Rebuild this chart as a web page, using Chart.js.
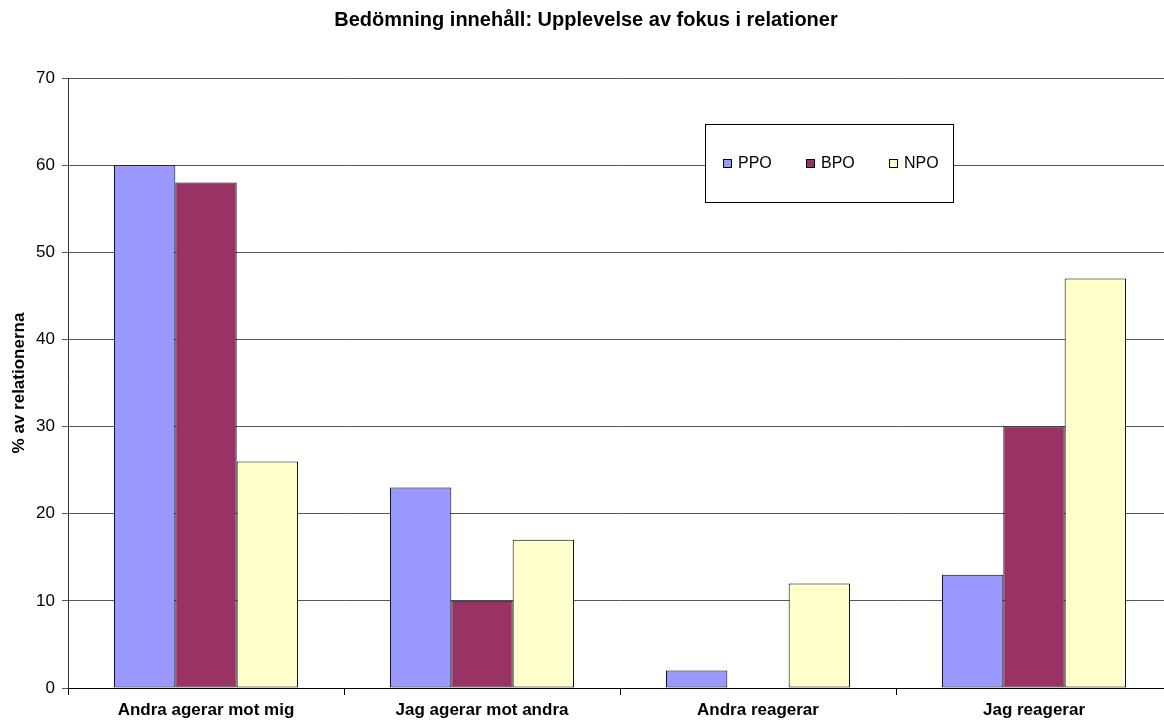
<!DOCTYPE html>
<html>
<head>
<meta charset="utf-8">
<script src="https://cdn.jsdelivr.net/npm/chart.js@4/dist/chart.umd.min.js"></script>
<style>
  html, body { margin: 0; padding: 0; background: #fff; overflow: hidden; }
  #wrap { width: 1164px; height: 722px; overflow: hidden; }
</style>
</head>
<body>
<div id="wrap"><canvas id="barChart" width="1172" height="722"></canvas></div>
<script>
// Chart data
const categories = ["Andra agerar mot mig", "Jag agerar mot andra", "Andra reagerar", "Jag reagerar"];
const ppoValues = [60, 23, 2, 13];
const bpoValues = [58, 10, 0, 30];
const npoValues = [26, 17, 12, 47];
const seriesNames = ["PPO", "BPO", "NPO"];
const seriesColors = ["#9999FF", "#993366", "#FFFFCC"];

const FONT = "'Liberation Sans', Arial, sans-serif";
const GRID = "#555";

// Draws the boxed legend inside the plot area, like the original
const boxLegend = {
  id: "boxLegend",
  afterDraw(chart) {
    const ctx = chart.ctx;
    const x = 705, y = 124, w = 248, h = 78;
    ctx.save();
    ctx.fillStyle = "#fff";
    ctx.fillRect(x, y, w, h);
    ctx.strokeStyle = "#000";
    ctx.lineWidth = 1;
    ctx.strokeRect(x + 0.5, y + 0.5, w, h);
    const itemX = [723, 806, 889];
    ctx.font = "16px " + FONT;
    ctx.textBaseline = "middle";
    chart.data.datasets.forEach((ds, i) => {
      ctx.fillStyle = ds.backgroundColor;
      ctx.fillRect(itemX[i], 159, 9, 9);
      ctx.strokeRect(itemX[i] + 0.5, 159.5, 8, 8);
      ctx.fillStyle = "#000";
      ctx.fillText(ds.label, itemX[i] + 15, 164);
    });
    ctx.restore();
  }
};

const chartData = {
  labels: categories,
  datasets: [ppoValues, bpoValues, npoValues].map((vals, i) => ({
    label: seriesNames[i],
    data: vals,
    backgroundColor: seriesColors[i],
    borderColor: "#000",
    borderWidth: 1,
    borderSkipped: false,
    categoryPercentage: 0.667,
    barPercentage: 1.0
  }))
};

const options = {
  responsive: false,
  animation: false,
  layout: { padding: 0 },
  plugins: {
    legend: { display: false },
    tooltip: { enabled: false },
    title: {
      display: true,
      text: "Bedömning innehåll: Upplevelse av fokus i relationer",
      color: "#000",
      font: { family: FONT, size: 20, weight: "bold" },
      padding: { top: 8, bottom: 46 }
    }
  },
  scales: {
    x: {
      grid: {
        offset: true,
        drawOnChartArea: false,
        color: "#000",
        tickLength: 7
      },
      border: { color: "#000", width: 1 },
      ticks: {
        color: "#000",
        font: { family: FONT, size: 17, weight: "bold" },
        padding: 5,
        maxRotation: 0
      },
      afterFit(scale) { scale.height = 34; }
    },
    y: {
      min: 0,
      max: 70,
      ticks: {
        stepSize: 10,
        color: "#000",
        font: { family: FONT, size: 17 },
        padding: 7
      },
      grid: { color: GRID, tickLength: 6 },
      border: { color: "#333", width: 1 },
      title: {
        display: true,
        text: "% av relationerna",
        color: "#000",
        font: { family: FONT, size: 17, weight: "bold" },
        padding: { top: 9, bottom: 0 }
      },
      afterFit(scale) { scale.width = 68; }
    }
  }
};

const barChart = new Chart(document.getElementById("barChart").getContext("2d"), {
  type: "bar",
  data: chartData,
  options: options,
  plugins: [boxLegend]
});
</script>
</body>
</html>
